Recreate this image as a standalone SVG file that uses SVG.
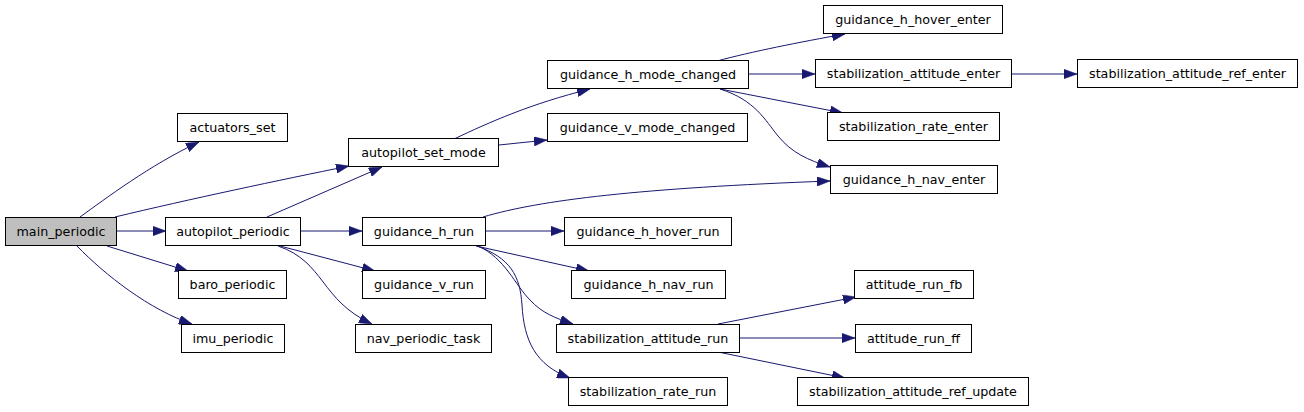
<svg xmlns="http://www.w3.org/2000/svg" width="1304" height="412" viewBox="0 0 1304 412">
<style>
.node rect{fill:#ffffff;stroke:#000000;stroke-width:1}
.node.root rect{fill:#bfbfbf}
.node text{font-family:"DejaVu Sans","Liberation Sans",sans-serif;font-size:12.7px;fill:#000000;text-anchor:middle}
.edges path{fill:none;stroke:#191970;stroke-width:1;marker-end:url(#arr)}
</style>
<defs>
<marker id="arr" markerUnits="userSpaceOnUse" viewBox="0 0 13 9.4" markerWidth="13" markerHeight="9.4" refX="13" refY="4.7" orient="auto">
<path d="M0,0 L13,4.7 L0,9.4 z" fill="#191970" stroke="#191970" stroke-width="0.5"/>
</marker>
</defs>
<rect width="1304" height="412" fill="#ffffff"/>
<g class="edges" id="edges">
<path d="M80,217 C105,199 150,165 199,142"/>
<path d="M115,217 C190,199 280,180 349,166"/>
<path d="M117,231 L166,231"/>
<path d="M107,246 L188,271"/>
<path d="M77,246 C105,275 150,310 192,324"/>
<path d="M267,217 L382,167"/>
<path d="M301,231 L362,231"/>
<path d="M280,246 L375,271"/>
<path d="M278,246 C325,262 320,300 372,324"/>
<path d="M454,139 C490,122 530,104 590,89"/>
<path d="M499,145 L547,140"/>
<path d="M717,61 C750,52 800,42 845,34"/>
<path d="M749,74 L815,74"/>
<path d="M720,89 L843,113"/>
<path d="M720,89 C755,100 765,120 778,136 C792,153 808,160 830,167"/>
<path d="M1011,74 L1077,74"/>
<path d="M483,217 C540,200 640,188 830,181"/>
<path d="M485,231 L564,231"/>
<path d="M476,246 L589,271"/>
<path d="M478,246 C505,258 515,285 530,300 C542,313 555,318 573,324"/>
<path d="M477,246 C510,258 520,275 522,305 C524,340 535,365 570,378"/>
<path d="M718,324 L856,297"/>
<path d="M739,338 L855,338"/>
<path d="M718,352 L845,378"/>
</g>
<g class="node root" id="main_periodic"><rect x="5.5" y="217.5" width="111" height="28"/><text x="61" y="235.5">main_periodic</text></g>
<g class="node" id="actuators_set"><rect x="177.5" y="113.5" width="110" height="28"/><text x="232.5" y="131.5">actuators_set</text></g>
<g class="node" id="autopilot_set_mode"><rect x="348.5" y="138.5" width="150" height="28"/><text x="423.5" y="156.5">autopilot_set_mode</text></g>
<g class="node" id="autopilot_periodic"><rect x="165.5" y="217.5" width="135" height="28"/><text x="233" y="235.5">autopilot_periodic</text></g>
<g class="node" id="baro_periodic"><rect x="178.5" y="270.5" width="108" height="28"/><text x="232.5" y="288.5">baro_periodic</text></g>
<g class="node" id="imu_periodic"><rect x="181.5" y="324.5" width="103" height="28"/><text x="233" y="342.5">imu_periodic</text></g>
<g class="node" id="guidance_h_mode_changed"><rect x="547.5" y="60.5" width="201" height="28"/><text x="648" y="78.5">guidance_h_mode_changed</text></g>
<g class="node" id="guidance_v_mode_changed"><rect x="547.5" y="113.5" width="200" height="28"/><text x="647.5" y="131.5">guidance_v_mode_changed</text></g>
<g class="node" id="guidance_h_run"><rect x="362.5" y="217.5" width="123" height="28"/><text x="424" y="235.5">guidance_h_run</text></g>
<g class="node" id="guidance_v_run"><rect x="362.5" y="270.5" width="123" height="28"/><text x="424" y="288.5">guidance_v_run</text></g>
<g class="node" id="nav_periodic_task"><rect x="355.5" y="324.5" width="136" height="28"/><text x="423.5" y="342.5">nav_periodic_task</text></g>
<g class="node" id="guidance_h_hover_enter"><rect x="823.5" y="5.5" width="179" height="28"/><text x="913" y="23.5">guidance_h_hover_enter</text></g>
<g class="node" id="stabilization_attitude_enter"><rect x="815.5" y="59.5" width="196" height="28"/><text x="913.5" y="77.5">stabilization_attitude_enter</text></g>
<g class="node" id="stabilization_attitude_ref_enter"><rect x="1077.5" y="59.5" width="220" height="28"/><text x="1187.5" y="77.5">stabilization_attitude_ref_enter</text></g>
<g class="node" id="stabilization_rate_enter"><rect x="827.5" y="112.5" width="172" height="28"/><text x="913.5" y="130.5">stabilization_rate_enter</text></g>
<g class="node" id="guidance_h_nav_enter"><rect x="830.5" y="165.5" width="167" height="28"/><text x="914" y="183.5">guidance_h_nav_enter</text></g>
<g class="node" id="guidance_h_hover_run"><rect x="564.5" y="217.5" width="167" height="28"/><text x="648" y="235.5">guidance_h_hover_run</text></g>
<g class="node" id="guidance_h_nav_run"><rect x="571.5" y="270.5" width="154" height="28"/><text x="648.5" y="288.5">guidance_h_nav_run</text></g>
<g class="node" id="stabilization_attitude_run"><rect x="556.5" y="324.5" width="183" height="28"/><text x="648" y="342.5">stabilization_attitude_run</text></g>
<g class="node" id="stabilization_rate_run"><rect x="568.5" y="377.5" width="159" height="28"/><text x="648" y="395.5">stabilization_rate_run</text></g>
<g class="node" id="attitude_run_fb"><rect x="854.5" y="270.5" width="119" height="28"/><text x="914" y="288.5">attitude_run_fb</text></g>
<g class="node" id="attitude_run_ff"><rect x="855.5" y="324.5" width="116" height="28"/><text x="913.5" y="342.5">attitude_run_ff</text></g>
<g class="node" id="stabilization_attitude_ref_update"><rect x="797.5" y="377.5" width="231" height="28"/><text x="913" y="395.5">stabilization_attitude_ref_update</text></g>
</svg>
